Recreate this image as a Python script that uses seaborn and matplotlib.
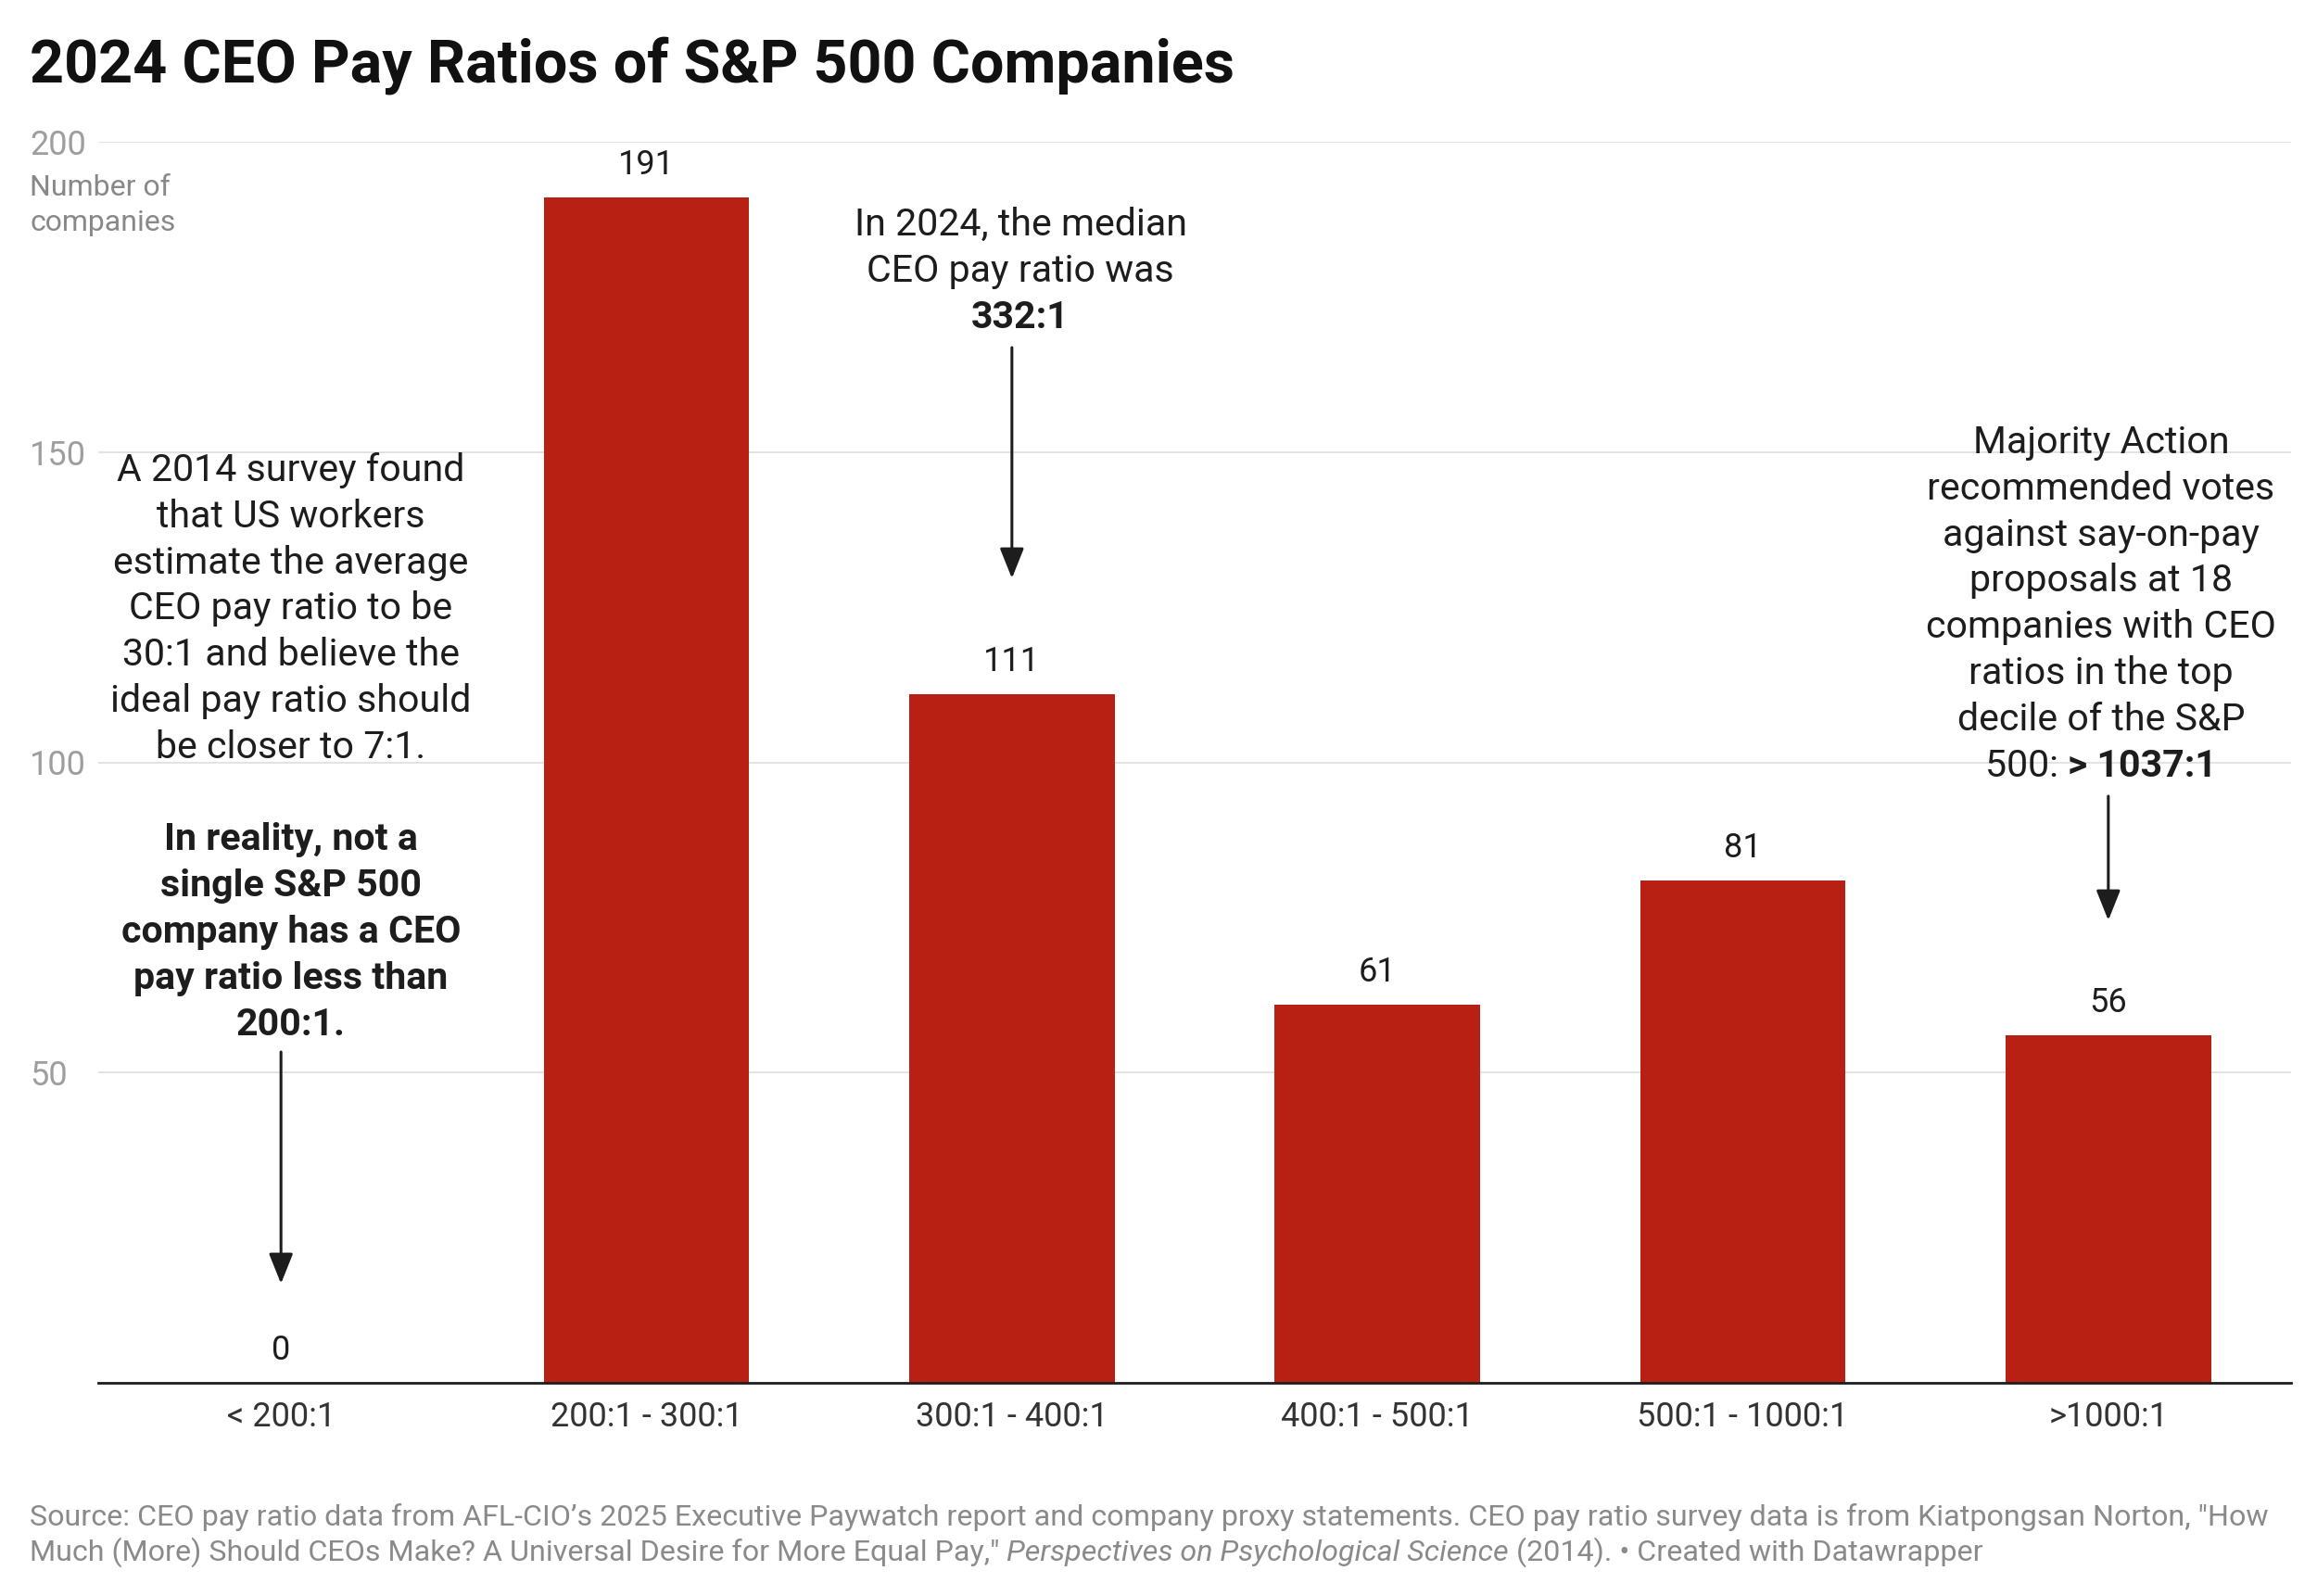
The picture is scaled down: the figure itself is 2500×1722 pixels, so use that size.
import matplotlib
matplotlib.use("Agg")
import matplotlib.pyplot as plt
import seaborn as sns
import pandas as pd

# ---- data ----
categories = ["< 200:1", "200:1 - 300:1", "300:1 - 400:1", "400:1 - 500:1", "500:1 - 1000:1", ">1000:1"]
companies = [0, 191, 111, 61, 81, 56]
y_ticks = [50, 100, 150, 200]

title = "2024 CEO Pay Ratios of S&P 500 Companies"
y_label_lines = ["Number of", "companies"]
left_note = ["A 2014 survey found", "that US workers", "estimate the average",
             "CEO pay ratio to be", "30:1 and believe the", "ideal pay ratio should",
             "be closer to 7:1."]
left_note_bold = ["In reality, not a", "single S&P 500", "company has a CEO",
                  "pay ratio less than", "200:1."]
mid_note = ["In 2024, the median", "CEO pay ratio was"]
mid_note_bold = "332:1"
right_note = ["Majority Action", "recommended votes", "against say-on-pay",
              "proposals at 18", "companies with CEO", "ratios in the top",
              "decile of the S&P"]
right_last = ("500: ", "> 1037:1")
source_line1 = ("Source: CEO pay ratio data from AFL-CIO\u2019s 2025 Executive Paywatch report and company "
                "proxy statements. CEO pay ratio survey data is from Kiatpongsan Norton, \"How")
source_line2 = ["Much (More) Should CEOs Make? A Universal Desire for More Equal Pay,\" ",
                "Perspectives on Psychological Science", " (2014). \u2022 Created with Datawrapper"]

df = pd.DataFrame({"category": categories, "companies": companies})

# ---- style ----
sns.set_theme(style="white")
plt.rcParams["font.family"] = ["Roboto", "DejaVu Sans"]

W, H = 2500, 1722
fig = plt.figure(figsize=(W / 100, H / 100), dpi=100)
fig.patch.set_facecolor("white")

def P(x, y):
    return (x / W, 1 - y / H)

ax_left, ax_right, ax_top, ax_bot = 106, 2472, 153, 1492
ax = fig.add_axes([ax_left / W, 1 - ax_bot / H, (ax_right - ax_left) / W, (ax_bot - ax_top) / H])

BAR = "#b82014"
TXT = "#1d1d1d"

sns.barplot(data=df, x="category", y="companies", color=BAR, saturation=1,
            width=0.562, ax=ax, linewidth=0)

ax.set_xlim(-0.5, len(categories) - 0.5)
ax.set_ylim(0, 200)
ax.set_yticks(y_ticks)
ax.set_xlabel("")
ax.set_ylabel("")
ax.grid(axis="y", color="#e3e3e3", linewidth=1.4)
ax.set_axisbelow(True)
for s in ["top", "right", "left"]:
    ax.spines[s].set_visible(False)
ax.spines["bottom"].set_color(TXT)
ax.spines["bottom"].set_linewidth(2.0)
ax.tick_params(axis="x", length=0, pad=14, labelsize=26, labelcolor="#333333")
ax.tick_params(axis="y", length=0, pad=(ax_left - 32) * 0.72, labelsize=26, labelcolor="#9e9e9e")
for lab in ax.get_yticklabels():
    lab.set_horizontalalignment("left")
ax.set_facecolor("white")

# value labels
for i, v in enumerate(companies):
    ax.annotate(f"{v}", xy=(i, v), xytext=(0, 18), textcoords="offset points",
                ha="center", va="baseline", fontsize=26, color=TXT)

# title
fig.text(*P(32, 89), title, fontsize=46.5, fontweight="bold", color="#111111",
         ha="left", va="baseline")

# y-axis label
for k, t in enumerate(y_label_lines):
    fig.text(*P(32, 211 + 38 * k), t, fontsize=23, color="#888888", ha="left", va="baseline")

STEP = 49.8
NOTE_FS = 29.6

def lines(cx, y0, texts, weight="normal"):
    for k, t in enumerate(texts):
        fig.text(*P(cx, y0 + STEP * k), t, fontsize=NOTE_FS, color=TXT, ha="center",
                 va="baseline", fontweight=weight)

# left note
lines(314, 519, left_note)
lines(314, 519 + STEP * 8, left_note_bold, weight="bold")
# middle note
lines(1101, 254, mid_note)
lines(1101, 254 + STEP * 2, [mid_note_bold], weight="bold")
# right note
lines(2267, 489, right_note)

renderer = fig.canvas.get_renderer()

def mixed(x, y, segments, fs, color, center=False):
    arts = []
    for t, w, st in segments:
        a = fig.text(*P(x, y), t, fontsize=fs, color=color, ha="left", va="baseline",
                     fontweight=w, fontstyle=st)
        arts.append(a)
    widths = [a.get_window_extent(renderer).width for a in arts]
    total = sum(widths)
    cur = x - total / 2 if center else x
    for a, wd in zip(arts, widths):
        a.set_position(P(cur, y))
        cur += wd
    return arts

mixed(2267, 489 + STEP * 7, [(right_last[0], "normal", "normal"), (right_last[1], "bold", "normal")],
      NOTE_FS, TXT, center=True)

# arrows
arrow_kw = dict(arrowstyle="-|>,head_length=0.4,head_width=0.16", color=TXT, lw=2.2,
                shrinkA=0, shrinkB=0, mutation_scale=50)
def to_val(py):
    return (ax_bot - py) / (ax_bot - ax_top) * 200
ax.annotate("", xy=(0, to_val(1385)), xytext=(0, to_val(1135)), arrowprops=arrow_kw)
ax.annotate("", xy=(2, to_val(624)), xytext=(2, to_val(375)), arrowprops=arrow_kw)
ax.annotate("", xy=(5, to_val(993)), xytext=(5, to_val(859)), arrowprops=arrow_kw)

# source
SRC_FS = 23.25
fig.text(*P(32, 1646), source_line1, fontsize=SRC_FS, color="#8a8a8a", ha="left", va="baseline")
mixed(32, 1684, [(source_line2[0], "normal", "normal"), (source_line2[1], "normal", "italic"),
                 (source_line2[2], "normal", "normal")], SRC_FS, "#8a8a8a")

fig.savefig("out.png", dpi=100, facecolor="white")
